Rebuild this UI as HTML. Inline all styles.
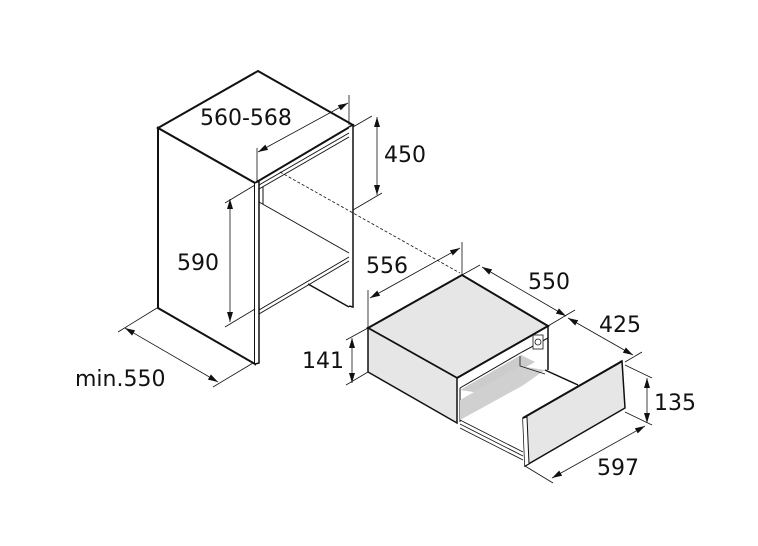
<!DOCTYPE html>
<html><head><meta charset="utf-8"><style>html,body{margin:0;padding:0;background:#fff}svg{display:block}text{font-family:"DejaVu Sans","Liberation Sans",sans-serif;font-size:22px;fill:#111}</style></head>
<body>
<svg width="758" height="546" viewBox="0 0 758 546" xmlns="http://www.w3.org/2000/svg">
<defs>
<marker id="a" viewBox="0 0 10 6" refX="10" refY="3" markerWidth="10" markerHeight="6" orient="auto-start-reverse" markerUnits="userSpaceOnUse"><path d="M0,0 L10,3 L0,6 z" fill="#111"/></marker>
</defs>
<g stroke="#111" fill="none">
<!-- cabinet -->
<path d="M158,128 L258,71 L353,125 L255,183 Z" fill="#fff" stroke-width="2"/>
<path d="M158,128 L255,183 L255,364 L158,308 Z" fill="#fff" stroke-width="2"/>
<path d="M255,183 L259,181 L259,363 L255,364" fill="#fff" stroke-width="1.5"/>
<path d="M349,127 L353,125 L353,307 L349,306" fill="#fff" stroke-width="1.5"/>
<path d="M259,185 L349,133 M259,189 L349,137" stroke-width="1"/>
<path d="M259,202 L349,253" stroke-width="1"/>
<path d="M259,310 L349,257 M259,314 L349,261" stroke-width="1"/>
<path d="M308,284 L349,307" stroke-width="1.5"/>
<path d="M263,187 L263,204" stroke-width="1"/>
<!-- dashed -->
<path d="M280,172 L460,273" stroke-width="0.8" stroke-dasharray="3,2"/>
<!-- drawer body -->
<path d="M368,328 L462,275 L548,326 L457,378 Z" fill="#e6e6e6" stroke-width="2"/>
<path d="M368,328 L457,378 L457,423 L368,372 Z" fill="#e6e6e6" stroke-width="1.5"/>
<path d="M457,378 L548,326 L548,370" stroke-width="1.5"/>
<path d="M460,388 L522,352 L548,338 M460,388 L460,422" stroke-width="1"/>
<path d="M460,390 L521,355 L535,362 L480,393 Z" fill="#ccc" stroke="none"/>
<path d="M460,400 L520,366 L545,370 L522,386 L460,420 Z" fill="#d0d0d0" stroke="none"/>
<path d="M520,356 L520,366 L545,374" stroke-width="0.8"/>
<rect x="533" y="335" width="10" height="14" fill="#fff" stroke-width="0.8"/>
<circle cx="538" cy="342" r="3" stroke-width="0.8"/>
<path d="M545,370 L578,385" stroke-width="1.5"/>
<path d="M460,420 L523,452 M460,424 L523,456 M460,428 L523,460" stroke-width="0.8"/>
<!-- drawer front -->
<path d="M523,418 L622,361 L625,408 L525,466 Z" fill="#e6e6e6" stroke-width="1.5"/>
<path d="M523,418 L527,417 L529,464 L525,466" fill="#fff" stroke-width="1"/>
<path d="M523,418 L619,363 L622,361" stroke-width="2"/>
</g>
<!-- dimension lines -->
<g stroke="#111" stroke-width="0.8" fill="none">
<path d="M257,148 L257,183 M349,95 L349,125"/>
<path d="M258,152 L348,103" marker-start="url(#a)" marker-end="url(#a)"/>
<path d="M353,127 L372,116 M353,210 L382,193"/>
<path d="M377,117 L377,195" marker-start="url(#a)" marker-end="url(#a)"/>
<path d="M225,203 L255,185 M225,327 L255,309"/>
<path d="M230,199 L230,322" marker-start="url(#a)" marker-end="url(#a)"/>
<path d="M157,308 L118,332 M253,363 L213,387"/>
<path d="M125,328 L218,382" marker-start="url(#a)" marker-end="url(#a)"/>
<path d="M368,290 L368,328 M462,242 L462,275"/>
<path d="M370,298 L460,248" marker-start="url(#a)" marker-end="url(#a)"/>
<path d="M462,275 L480,265 M548,326 L575,310 M625,362 L642,352"/>
<path d="M482,267 L566,316" marker-start="url(#a)" marker-end="url(#a)"/>
<path d="M568,318 L633,355" marker-start="url(#a)" marker-end="url(#a)"/>
<path d="M368,328 L346,340 M368,372 L346,385"/>
<path d="M352,338 L352,383" marker-start="url(#a)" marker-end="url(#a)"/>
<path d="M625,365 L652,378 M625,412 L652,425"/>
<path d="M647,378 L647,423" marker-start="url(#a)" marker-end="url(#a)"/>
<path d="M525,466 L553,483"/>
<path d="M552,478 L645,426" marker-start="url(#a)" marker-end="url(#a)"/>
</g>
<text x="200" y="125">560-568</text>
<text x="384" y="162">450</text>
<text x="177" y="270">590</text>
<text x="366" y="273">556</text>
<text x="528" y="289">550</text>
<text x="599" y="332">425</text>
<text x="302" y="368">141</text>
<text x="654" y="410">135</text>
<text x="597" y="475">597</text>
<text x="75" y="386">min.550</text>
</svg>
</body></html>
